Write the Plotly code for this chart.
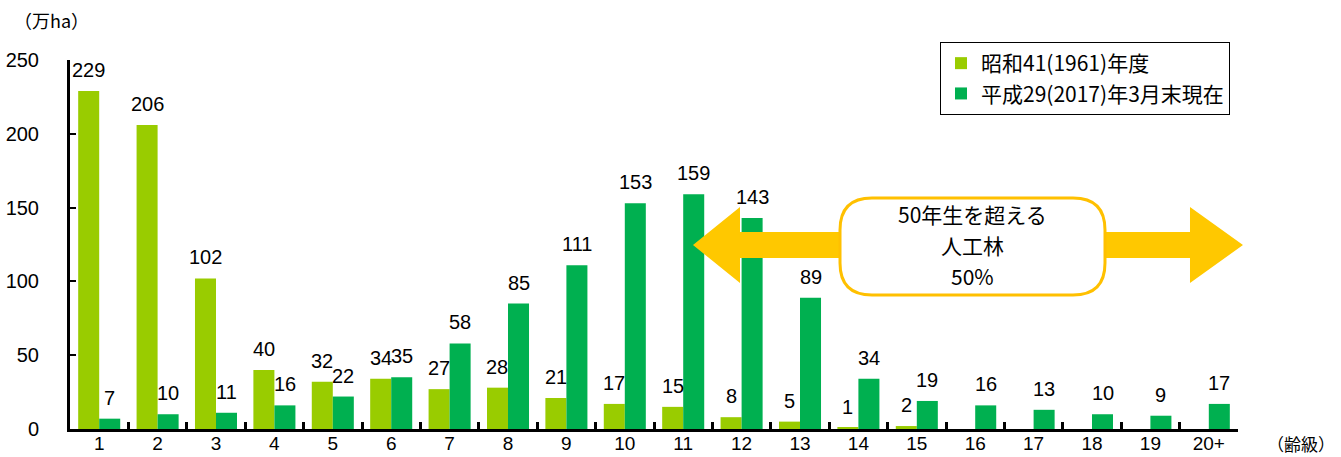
import plotly.graph_objects as go

categories = ["1","2","3","4","5","6","7","8","9","10","11","12","13","14","15","16","17","18","19","20+"]
s1_name = "昭和41(1961)年度"
s2_name = "平成29(2017)年3月末現在"
s1_values = [229,206,102,40,32,34,27,28,21,17,15,8,5,1,2,0,0,0,0,0]
s2_values = [7,10,11,16,22,35,58,85,111,153,159,143,89,34,19,16,13,10,9,17]
y_ticks = [0,50,100,150,200,250]

FONT = "Noto Sans CJK JP"
NUMFONT = "Liberation Sans"
W, H = 1341, 457
L, R, T, B = 70, 103, 60, 28
PW, PH = W - L - R, H - T - B
BARGAP = 0.28
bar_px = PW / len(categories) * (1 - BARGAP) / 2

def px(x):
    return (x - L) / PW

def py(y):
    return (H - B - y) / PH

fig = go.Figure()
fig.add_trace(go.Bar(x=categories, y=s1_values, name=s1_name, marker_color="#99CC00",
                     marker_line=dict(width=0)))
fig.add_trace(go.Bar(x=categories, y=s2_values, name=s2_name, marker_color="#00B050",
                     marker_line=dict(width=0)))

annotations = []
for vals, sh in ((s1_values, -bar_px / 2), (s2_values, bar_px / 2)):
    for i, v in enumerate(vals):
        if v > 0:
            annotations.append(dict(x=i, y=v, xref="x", yref="y", text=str(v),
                                    showarrow=False, xshift=sh, yanchor="bottom", yshift=8,
                                    font=dict(size=20, color="black", family=NUMFONT)))

# double arrow
pts = [(693,245),(740,207),(740,232),(1190,232),(1190,207),(1243,245),
       (1190,283),(1190,258),(740,258),(740,283)]
path = "M " + " L ".join(f"{px(a):.5f},{py(b):.5f}" for a, b in pts) + " Z"
shapes = [dict(type="path", xref="paper", yref="paper", path=path,
               fillcolor="#FFC800", line=dict(width=0), layer="above")]

# rounded box
x0, x1, y0, y1, r = 840, 1105, 198, 295, 32
def P(a, b):
    return f"{px(a):.5f},{py(b):.5f}"
box = (f"M {P(x0+r,y0)} L {P(x1-r,y0)} Q {P(x1,y0)} {P(x1,y0+r)} "
       f"L {P(x1,y1-r)} Q {P(x1,y1)} {P(x1-r,y1)} L {P(x0+r,y1)} "
       f"Q {P(x0,y1)} {P(x0,y1-r)} L {P(x0,y0+r)} Q {P(x0,y0)} {P(x0+r,y0)} Z")
shapes.append(dict(type="path", xref="paper", yref="paper", path=box,
                   fillcolor="white", line=dict(color="#FFC000", width=3), layer="above"))

for txt, yy in (("50年生を超える", 214), ("人工林", 245), ("50%", 276)):
    annotations.append(dict(xref="paper", yref="paper", x=px(972), y=py(yy),
                            xanchor="center", yanchor="middle", showarrow=False, text=txt,
                            font=dict(size=21, color="black", family=FONT)))

annotations += [
    dict(xref="paper", yref="paper", x=px(12), y=py(20), xanchor="left", yanchor="middle",
         showarrow=False, text="（万ha）", font=dict(size=18, color="black", family=FONT)),
    dict(xref="paper", yref="paper", x=px(1337), y=py(443), xanchor="right", yanchor="middle",
         showarrow=False, text="（齢級）", font=dict(size=17, color="black", family=FONT)),
]

fig.update_layout(
    width=W, height=H, margin=dict(l=L, r=R, t=T, b=B),
    paper_bgcolor="white", plot_bgcolor="white",
    barmode="group", bargap=BARGAP, bargroupgap=0,
    font=dict(family=FONT, size=20, color="black"),
    showlegend=True,
    legend=dict(x=px(940), y=py(42), xanchor="left", yanchor="top",
                bgcolor="white", bordercolor="black", borderwidth=1,
                font=dict(size=21, family=FONT), itemwidth=30, tracegroupgap=0),
    shapes=shapes, annotations=annotations,
)
fig.update_xaxes(type="category", showline=True, linecolor="black", linewidth=3,
                 ticks="inside", tickson="boundaries", ticklen=7, tickwidth=3,
                 tickcolor="black", showgrid=False, automargin=False,
                 ticklabelstandoff=-5,
                 tickfont=dict(size=19, family=NUMFONT))
fig.update_yaxes(range=[0, 250], tickvals=y_ticks, showline=True, linecolor="black",
                 linewidth=3, ticks="inside", ticklen=6, tickwidth=2, tickcolor="black",
                 showgrid=False, zeroline=False, automargin=False,
                 ticklabelstandoff=24, tickfont=dict(size=20, family=NUMFONT))

fig.write_html("out.html")
